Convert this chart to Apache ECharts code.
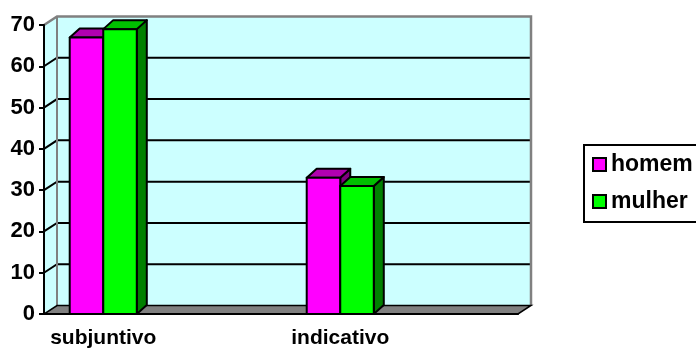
<!DOCTYPE html>
<html>
<head>
<meta charset="utf-8">
<script src="https://cdn.jsdelivr.net/npm/echarts@6/dist/echarts.min.js"></script>
<style>
  html, body { margin: 0; padding: 0; background: #ffffff; }
  #chart { width: 696px; height: 349px; }
</style>
</head>
<body>
<div id="chart"></div>
<script>
// Categories and values (percent)
const categories = ['subjuntivo', 'indicativo'];
const homem = [67, 33];
const mulher = [69, 31];
const yTicks = [0, 10, 20, 30, 40, 50, 60, 70];

// Each category is followed by an empty slot, giving the axis its extra ticks
const axisCats = categories.flatMap(c => [c, '']);
const slotOf = i => i * 2;

const FONT = '"Liberation Sans", Arial, sans-serif';
const WALL_DX = 13, WALL_DY = -8.5;   // depth of walls / floor
const BAR_DX = 10, BAR_DY = -9;        // depth of the columns
const BAR_FRAC = 0.283;                // column width as a share of a slot

const palette = [
  { front: '#FF00FF', top: '#B000B0', side: '#800080' },
  { front: '#00FF00', top: '#00C000', side: '#008000' }
];

function renderWalls(params, api) {
  const band = api.size([1, 0])[0];
  const x0 = api.coord([0, 0])[0] - band / 2;
  const x1 = api.coord([axisCats.length - 1, 0])[0] + band / 2;
  const yAt = v => api.coord([0, v])[1];
  const y0 = yAt(yTicks[0]);
  const yT = yAt(yTicks[yTicks.length - 1]);
  const children = [];
  // side wall
  children.push({ type: 'polygon', shape: { points: [[x0, y0], [x0, yT], [x0 + WALL_DX, yT + WALL_DY], [x0 + WALL_DX, y0 + WALL_DY]] },
    style: { fill: '#CCFFFF' } });
  // back wall
  children.push({ type: 'rect', shape: { x: x0 + WALL_DX, y: yT + WALL_DY, width: x1 - x0, height: y0 - yT },
    style: { fill: '#CCFFFF' } });
  // gridlines across side and back walls
  yTicks.slice(1, -1).forEach(v => {
    const y = yAt(v);
    children.push({ type: 'polyline', shape: { points: [[x0, y], [x0 + WALL_DX, y + WALL_DY], [x1 + WALL_DX, y + WALL_DY]] },
      style: { stroke: '#000', lineWidth: 2, fill: null } });
  });
  // wall edges
  children.push({ type: 'polyline', shape: { points: [[x0, yT], [x0 + WALL_DX, yT + WALL_DY], [x1 + WALL_DX, yT + WALL_DY], [x1 + WALL_DX, y0 + WALL_DY]] },
    style: { stroke: '#808080', lineWidth: 2.5, fill: null } });
  children.push({ type: 'line', shape: { x1: x0 + WALL_DX, y1: yT + WALL_DY, x2: x0 + WALL_DX, y2: y0 + WALL_DY },
    style: { stroke: '#808080', lineWidth: 2 } });
  // floor
  children.push({ type: 'polygon', shape: { points: [[x0, y0], [x1, y0], [x1 + WALL_DX, y0 + WALL_DY], [x0 + WALL_DX, y0 + WALL_DY]] },
    style: { fill: '#808080', stroke: '#000', lineWidth: 1.5 } });
  return { type: 'group', children };
}

function makeBarRenderer(s) {
  const col = palette[s];
  return function (params, api) {
    const x = api.value(0), v = api.value(1);
    const band = api.size([1, 0])[0];
    const w = band * BAR_FRAC;
    const b = api.coord([x, 0]);
    const t = api.coord([x, v]);
    const L = b[0] - w + s * w, R = L + w;
    const yb = b[1], yt = t[1];
    const edge = { stroke: '#000', lineWidth: 2, lineJoin: 'round' };
    return {
      type: 'group',
      children: [
        { type: 'polygon', shape: { points: [[R, yt], [R + BAR_DX, yt + BAR_DY], [R + BAR_DX, yb + BAR_DY], [R, yb]] },
          style: Object.assign({ fill: col.side }, edge) },
        { type: 'polygon', shape: { points: [[L, yt], [L + BAR_DX, yt + BAR_DY], [R + BAR_DX, yt + BAR_DY], [R, yt]] },
          style: Object.assign({ fill: col.top }, edge) },
        { type: 'rect', shape: { x: L, y: yt, width: w, height: yb - yt },
          style: Object.assign({ fill: col.front }, edge) }
      ]
    };
  };
}

const chart = echarts.init(document.getElementById('chart'), null, { renderer: 'canvas' });
chart.setOption({
  backgroundColor: '#ffffff',
  animation: false,
  textStyle: { fontFamily: FONT },
  grid: { left: 44, top: 25, width: 474, height: 290, containLabel: false },
  xAxis: {
    type: 'category',
    data: axisCats,
    boundaryGap: true,
    z: 6,
    axisLine: { lineStyle: { color: '#000', width: 2 } },
    axisTick: { interval: 0, length: 6, lineStyle: { color: '#000', width: 2 } },
    axisLabel: { interval: 0, margin: 14, color: '#000', fontSize: 21, fontWeight: 'bold', fontFamily: FONT },
    splitLine: { show: false }
  },
  yAxis: {
    type: 'value',
    min: yTicks[0],
    max: yTicks[yTicks.length - 1],
    interval: yTicks[1] - yTicks[0],
    z: 6,
    axisLine: { show: true, lineStyle: { color: '#000', width: 2 } },
    axisTick: { show: true, length: 5, lineStyle: { color: '#000', width: 2 } },
    axisLabel: { margin: 9, color: '#000', fontSize: 22, fontWeight: 'bold', fontFamily: FONT },
    splitLine: { show: false }
  },
  legend: {
    orient: 'vertical',
    left: 584,
    top: 145,
    padding: [8, 40, 9, 8],
    borderColor: '#000',
    borderWidth: 2,
    backgroundColor: '#ffffff',
    itemWidth: 13,
    itemHeight: 13,
    itemGap: 14,
    icon: 'rect',
    textStyle: { color: '#000', fontSize: 23, fontWeight: 'bold', fontFamily: FONT },
    data: [
      { name: 'homem', itemStyle: { color: palette[0].front, borderColor: '#000', borderWidth: 2 } },
      { name: 'mulher', itemStyle: { color: palette[1].front, borderColor: '#000', borderWidth: 2 } }
    ]
  },
  series: [
    { name: 'walls', type: 'custom', z: 1, silent: true, clip: false,
      renderItem: renderWalls, data: [[0, 0]] },
    { name: 'homem', type: 'custom', z: 3, clip: false,
      itemStyle: { color: palette[0].front },
      renderItem: makeBarRenderer(0), data: homem.map((v, i) => [slotOf(i), v]) },
    { name: 'mulher', type: 'custom', z: 4, clip: false,
      itemStyle: { color: palette[1].front },
      renderItem: makeBarRenderer(1), data: mulher.map((v, i) => [slotOf(i), v]) }
  ]
});
</script>
</body>
</html>
